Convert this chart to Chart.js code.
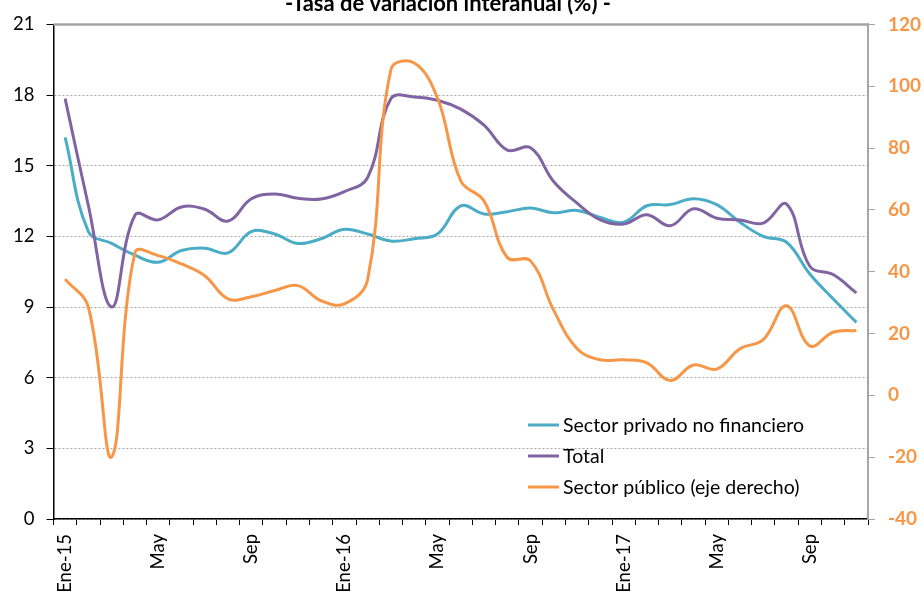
<!DOCTYPE html>
<html><head><meta charset="utf-8">
<script src="https://cdn.jsdelivr.net/npm/chart.js@4"></script>
<style>html,body{margin:0;padding:0;background:#fff}#wrap{width:924px;height:592px}</style>
</head><body><div id="wrap"><canvas id="c" width="924" height="592"></canvas></div>
<script>
const months = ['Ene-15','Feb','Mar','Abr','May','Jun','Jul','Ago','Sep','Oct','Nov','Dic',
  'Ene-16','Feb','Mar','Abr','May','Jun','Jul','Ago','Sep','Oct','Nov','Dic',
  'Ene-17','Feb','Mar','Abr','May','Jun','Jul','Ago','Sep','Oct','Nov'];
const seriesNames = ['Sector privado no financiero','Total','Sector público (eje derecho)'];
const privado = [16.2,12.2,11.7,11.2,10.9,11.4,11.5,11.3,12.2,12.1,11.7,11.9,
  12.3,12.1,11.8,11.9,12.1,13.3,12.95,13.05,13.2,13.0,13.1,12.8,
  12.6,13.3,13.35,13.6,13.35,12.6,12.0,11.75,10.4,9.35,8.35];
const total = [17.85,13.3,9.0,12.9,12.7,13.25,13.15,12.65,13.6,13.8,13.62,13.59,
  13.9,14.5,17.85,17.92,17.78,17.4,16.72,15.66,15.76,14.32,13.41,12.7,
  12.52,12.92,12.45,13.17,12.77,12.7,12.56,13.37,10.73,10.38,9.6];
const publico = [37.6,28.5,-19.9,46.2,45.2,42.5,38.7,31.2,31.9,33.9,35.5,30.6,
  29.6,37.5,105.4,107.5,96.2,69.4,62.9,44.6,43.5,27.4,15.1,11.5,
  11.5,10.5,4.8,9.8,8.5,15.1,18.0,29.0,16.0,20.4,21.0];
const leftTicks = {min: 0, max: 21, step: 3};
const rightTicks = {min: -40, max: 120, step: 20};
const titleText = '-Tasa de variación interanual (%) -';
const colors = ['#4BACC6','#8064A2','#F79646'];
const FONT = 'Lato, Carlito, Calibri, sans-serif';

const framePlugin = {
  id: 'frame',
  afterDraw(chart) {
    const {ctx, chartArea: a} = chart;
    ctx.save();
    ctx.strokeStyle = '#A6A6A6';
    ctx.lineWidth = 2.5;
    ctx.beginPath();
    ctx.moveTo(a.left, a.top);
    ctx.lineTo(a.right + 1, a.top);
    ctx.stroke();
    // title
    ctx.fillStyle = '#000';
    ctx.font = 'bold 22px ' + FONT;
    ctx.textAlign = 'center';
    ctx.textBaseline = 'alphabetic';
    ctx.fillText(titleText, 448, 11);
    // legend inside plot
    ctx.font = '19.5px ' + FONT;
    ctx.textAlign = 'left';
    ctx.textBaseline = 'middle';
    chart.data.datasets.forEach((ds, i) => {
      const y = 425 + i * 31;
      ctx.strokeStyle = ds.borderColor;
      ctx.lineWidth = 3;
      ctx.beginPath();
      ctx.moveTo(528, y);
      ctx.lineTo(559, y);
      ctx.stroke();
      ctx.fillStyle = '#000';
      ctx.fillText(ds.label, 563, y + 1);
    });
    ctx.restore();
  }
};

new Chart(document.getElementById('c'), {
  type: 'line',
  data: {
    labels: months,
    datasets: [
      {label: seriesNames[0], data: privado, borderColor: colors[0], yAxisID: 'y', order: 3},
      {label: seriesNames[1], data: total, borderColor: colors[1], yAxisID: 'y', order: 2},
      {label: seriesNames[2], data: publico, borderColor: colors[2], yAxisID: 'y1', order: 1}
    ]
  },
  options: {
    responsive: false, animation: false, devicePixelRatio: 1,
    layout: {padding: {top: 22, left: 0, right: 0, bottom: 0}},
    elements: {line: {borderWidth: 3, tension: 0.4, fill: false}, point: {radius: 0}},
    plugins: {legend: {display: false}, tooltip: {enabled: false}, title: {display: false}},
    scales: {
      x: {
        type: 'category', offset: true,
        grid: {drawOnChartArea: false, offset: true, tickLength: 6, tickColor: '#000', lineWidth: 1},
        border: {color: '#000', width: 1.5},
        ticks: {autoSkip: false, maxRotation: 90, minRotation: 90, padding: 9, color: '#000',
          font: {family: FONT, size: 18.5},
          callback: (v, i) => (i % 4 === 0 ? months[i] : '')},
        afterFit: s => { s.height = 73; }
      },
      y: {
        position: 'left', min: leftTicks.min, max: leftTicks.max,
        ticks: {stepSize: leftTicks.step, padding: 12, color: '#000', font: {family: FONT, size: 18.5}},
        grid: {color: '#A6A6A6', lineWidth: 1, tickColor: '#000', tickLength: 7},
        border: {color: '#000', width: 1.5, dash: [2, 2]},
        afterFit: s => { s.width = 53.5; }
      },
      y1: {
        position: 'right', min: rightTicks.min, max: rightTicks.max,
        ticks: {stepSize: rightTicks.step, padding: 13, color: '#F79646',
          font: {family: FONT, size: 19, weight: 'bold'}},
        grid: {drawOnChartArea: false, tickColor: '#A6A6A6', tickLength: 7},
        border: {color: '#A6A6A6', width: 2},
        afterFit: s => { s.width = 56; }
      }
    }
  },
  plugins: [framePlugin]
});
</script></body></html>
